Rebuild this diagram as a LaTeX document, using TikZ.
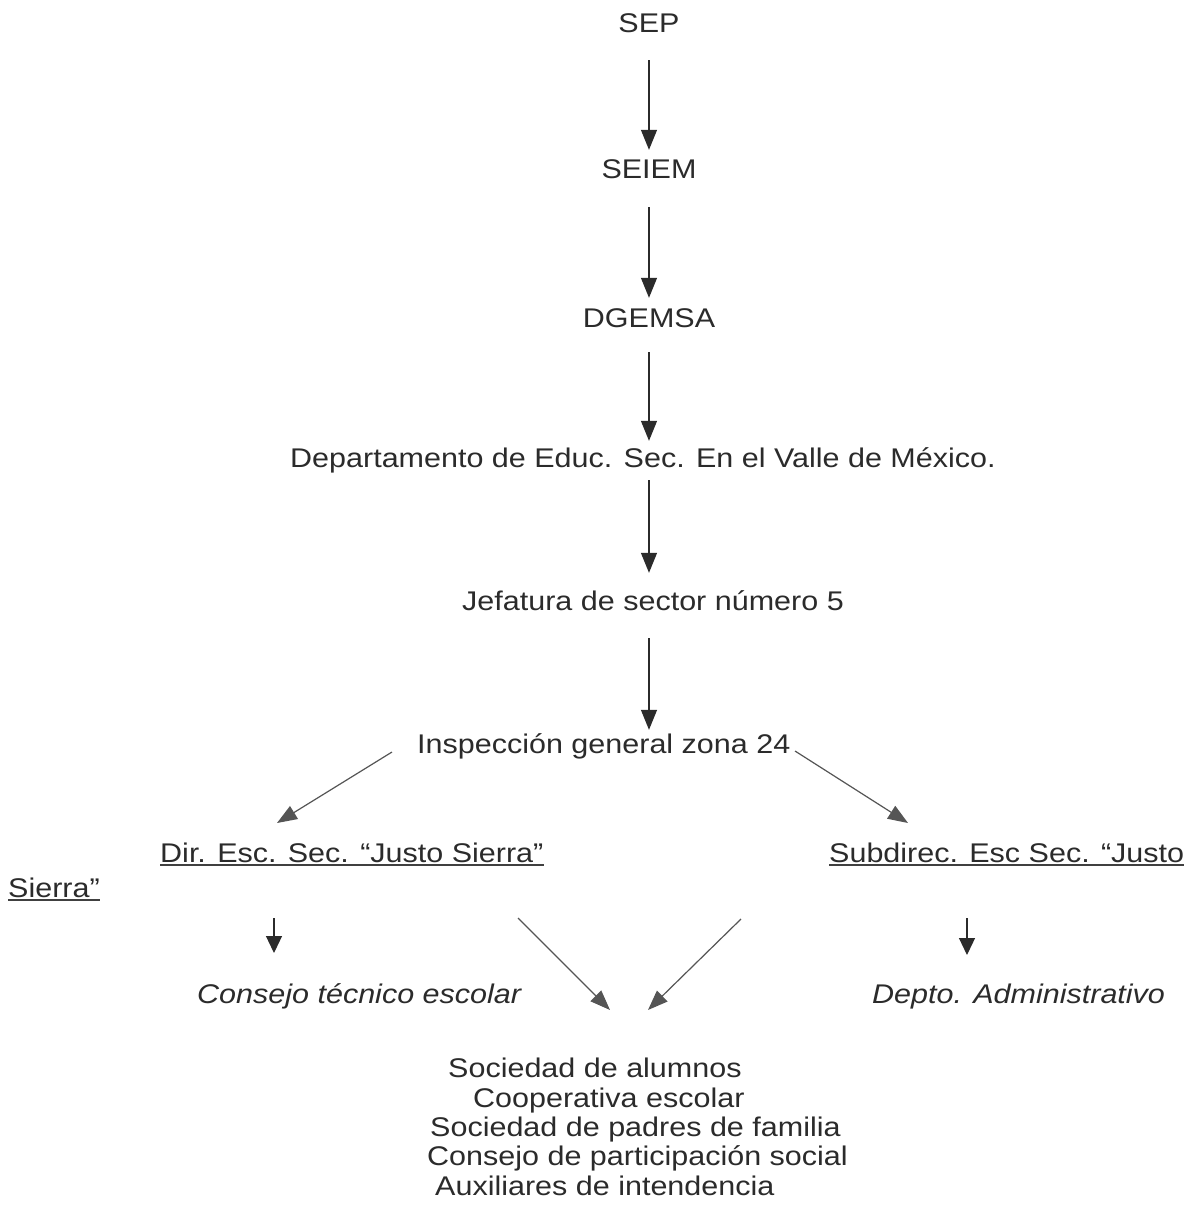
\documentclass[tikz,border=0pt]{standalone}
\usepackage{fontspec}
\setmainfont{Liberation Sans}[FakeStretch=1.13]
\usetikzlibrary{arrows.meta,calc}
\definecolor{ink}{HTML}{2B2B2B}
\definecolor{grayline}{HTML}{555555}
\begin{document}
\begin{tikzpicture}[x=1pt,y=-1pt,
  lbl/.style={inner sep=0pt,text height=20pt,text depth=6pt,text=ink,font=\fontsize{27pt}{30pt}\selectfont},
  itlbl/.style={lbl,font=\fontsize{27pt}{30pt}\selectfont\itshape},
  arr/.style={draw=ink,line width=1.3pt,-{Triangle[length=20pt,width=16pt]}},
  sarr/.style={draw=ink,line width=1.2pt,-{Triangle[length=17pt,width=16pt]}},
  garr/.style={draw=grayline,line width=1.2pt,-{Triangle[length=20pt,width=15pt]}},
  uline/.style={draw=ink!90,line width=1.8pt}]
\useasboundingbox[fill=white] (0,0) rectangle (1203,1224);
\coordinate (spine) at (649,0);
\node[lbl,anchor=base] (sep) at (649,32) {SEP};
\node[lbl,anchor=base] (seiem) at (649,178) {SEIEM};
\node[lbl,anchor=base] (dgemsa) at (649,327) {DGEMSA};
\node[lbl,anchor=base west] (dep) at (290,467) {Departamento de Educ. Sec. En el Valle de México.};
\node[lbl,anchor=base west] (jef) at (462,610) {Jefatura de sector número 5};
\node[lbl,anchor=base west] (insp) at (417,753) {Inspección general zona 24};
\node[lbl,anchor=base west] (dir) at (160,862) {Dir. Esc. Sec. “Justo Sierra”};
\node[lbl,anchor=base west] (sub) at (829,862) {Subdirec. Esc Sec. “Justo};
\node[lbl,anchor=base west] (sierra) at (8,897) {Sierra”};
\node[itlbl,anchor=base west] (cte) at (197,1003) {Consejo técnico escolar};
\node[itlbl,anchor=base west] (dad) at (872,1003) {Depto. Administrativo};
\node[lbl,anchor=base west] (l1) at (448,1077) {Sociedad de alumnos};
\node[lbl,anchor=base west] (l2) at (473,1107) {Cooperativa escolar};
\node[lbl,anchor=base west] (l3) at (430,1136) {Sociedad de padres de familia};
\node[lbl,anchor=base west] (l4) at (427,1165) {Consejo de participación social};
\node[lbl,anchor=base west] (l5) at (435,1195) {Auxiliares de intendencia};
% underlines
\draw[uline] ($(dir.base west)+(0,-3pt)$) -- ($(dir.base east)+(0,-3pt)$);
\draw[uline] ($(sub.base west)+(0,-3pt)$) -- ($(sub.base east)+(0,-3pt)$);
\draw[uline] ($(sierra.base west)+(0,-3pt)$) -- ($(sierra.base east)+(0,-3pt)$);
% main spine
\draw[arr] ($(sep.south)+(0,-22pt)$) -- ($(seiem.north)+(0,8pt)$);
\draw[arr] ($(seiem.south)+(0,-23pt)$) -- ($(dgemsa.north)+(0,9pt)$);
\draw[arr] ($(dgemsa.south)+(0,-19pt)$) -- ($(dep.north -| spine)+(0,6pt)$);
\draw[arr] ($(dep.south -| spine)+(0,-7pt)$) -- ($(jef.north -| spine)+(0,17pt)$);
\draw[arr] ($(jef.south -| spine)+(0,-22pt)$) -- ($(insp.north -| spine)+(0,3pt)$);
% branches
\draw[garr] ($(insp.base west)+(-25pt,1pt)$) -- ($(dir.base west)+(117pt,39pt)$);
\draw[garr] ($(insp.base west)+(378pt,2pt)$) -- ($(sub.base west)+(79pt,39pt)$);
\draw[sarr] ($(dir.base west)+(114pt,-56pt)$) -- ($(cte.base west)+(77pt,50pt)$);
\draw[sarr] ($(sub.base west)+(138pt,-56pt)$) -- ($(dad.base west)+(95pt,48pt)$);
\draw[garr] ($(dir.base west)+(358pt,-56pt)$) -- ($(l1.base west)+(162pt,67pt)$);
\draw[garr] ($(sub.base west)+(-88pt,-57pt)$) -- ($(l1.base west)+(200pt,67pt)$);
\end{tikzpicture}
\end{document}
